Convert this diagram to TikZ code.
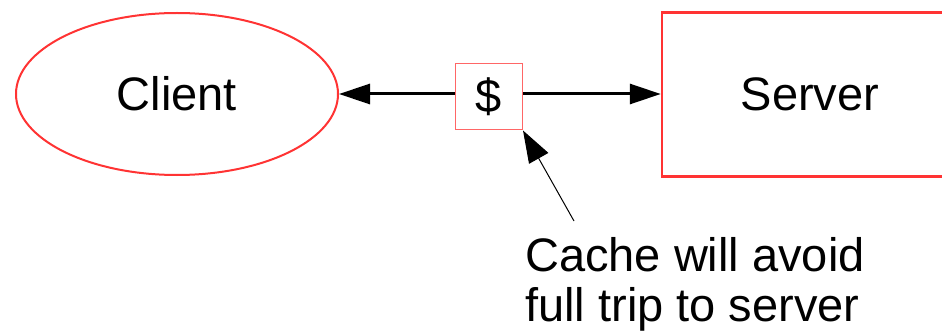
\documentclass[tikz,border=0pt]{standalone}
\usepackage{fontspec}
\setmainfont{Liberation Sans}
\usetikzlibrary{shapes.geometric,arrows.meta}
\definecolor{edgered}{HTML}{FF3333}
\definecolor{boxred}{HTML}{FF6666}
\begin{document}
\begin{tikzpicture}[x=1pt,y=-1pt,
  lbl/.style={font=\fontsize{47}{50}\selectfont, text=black},
  bigarrow/.style={line width=3pt, -{Triangle[length=31pt,width=20pt]}},
  thinarrow/.style={line width=1pt, -{Triangle[length=32pt,width=22pt]}}]
\useasboundingbox (0,0) rectangle (942,334);
\clip (0,0) rectangle (942,334);
\node[lbl, ellipse, draw=edgered, line width=2pt, minimum width=322pt, minimum height=162pt, inner sep=0pt] (client) at (177,94) {Client};
\node[lbl, rectangle, draw=edgered, line width=2.5pt, minimum width=296pt, minimum height=164pt, inner sep=0pt] (server) at (810,94.5) {Server};
\node[lbl, rectangle, draw=boxred, line width=1pt, minimum width=67pt, minimum height=66pt, inner sep=0pt] (cache) at (489,97) {\$};
\node[lbl, align=left, anchor=north west, inner sep=0pt] (note) at (525,237) {Cache will avoid\\full trip to server};
\coordinate (tail) at (574,221);
\draw[bigarrow] (cache.west |- 0,94) -- (client.east |- 0,94);
\draw[bigarrow] (cache.east |- 0,94) -- (server.west |- 0,94);
\draw[thinarrow] (tail) -- (cache.south east);
\end{tikzpicture}
\end{document}
